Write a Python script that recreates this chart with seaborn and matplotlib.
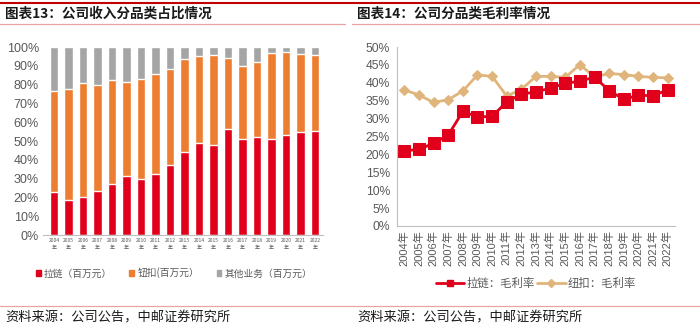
import numpy as np
import pandas as pd
import matplotlib
matplotlib.use("Agg")
import matplotlib.pyplot as plt
import seaborn as sns
from matplotlib.lines import Line2D
from matplotlib.patches import Patch

sns.set_style("white")
plt.rcParams['font.family'] = ['Liberation Sans', 'Noto Sans CJK SC', 'DejaVu Sans']

# ---- data ----
years = [str(y) for y in range(2004, 2023)]
zipper_share = [22.7, 18.8, 20.2, 23.5, 27.1, 31.3, 29.9, 32.4, 37.5, 44.4, 48.8, 48.1, 56.3, 51.3, 52.0, 51.3, 53.1, 54.7, 55.2]
button_share = [53.8, 58.7, 60.7, 56.3, 55.2, 50.3, 52.9, 53.3, 50.6, 49.4, 46.2, 47.5, 37.9, 38.4, 40.0, 45.5, 44.1, 41.4, 40.4]
other_share = [23.5, 22.5, 19.1, 20.2, 17.7, 18.4, 17.2, 14.3, 11.9, 6.2, 5.0, 4.4, 5.8, 10.3, 8.0, 3.2, 2.8, 3.9, 4.4]
share_labels = ['拉链（百万元）', '钮扣(百万元）', '其他业务（百万元）']

zipper_margin = [21.0, 21.4, 23.1, 25.4, 32.0, 30.5, 30.6, 34.7, 36.8, 37.5, 38.5, 39.9, 40.4, 41.6, 37.8, 35.4, 36.5, 36.4, 38.0]
button_margin = [38.0, 36.6, 34.5, 35.3, 37.7, 42.2, 41.8, 36.3, 38.2, 41.8, 41.8, 41.5, 45.1, 41.6, 42.6, 42.3, 41.8, 41.5, 41.4]
margin_labels = ['拉链：毛利率', '纽扣：毛利率']

RED = '#E0001B'
ORANGE = '#ED7D31'
GRAY = '#A5A5A5'
TAN = '#E0B57C'
TXT = '#595959'
AX = '#BFBFBF'

W, H = 700, 329
fig = plt.figure(figsize=(7, 3.29), dpi=100)

def fx(px):
    return px / W

def fy(py):
    return 1 - py / H

# decorative lines
fig.add_artist(Line2D([0, 1], [fy(3), fy(3)], color='#C00000', lw=1.5))
fig.add_artist(Line2D([0, fx(345)], [fy(23.5), fy(23.5)], color='#E9A3A3', lw=0.9))
fig.add_artist(Line2D([fx(352), 1], [fy(23.5), fy(23.5)], color='#E9A3A3', lw=0.9))
fig.add_artist(Line2D([0, 1], [fy(306), fy(306)], color='#E9A3A3', lw=0.9))

cjk = ['Noto Sans CJK SC', 'DejaVu Sans']
fig.text(fx(5), fy(13.5), '图表13：公司收入分品类占比情况', family=cjk, fontsize=9.8, fontweight='bold', va='center', ha='left', color='#1a1a1a')
fig.text(fx(357), fy(13.5), '图表14：公司分品类毛利率情况', family=cjk, fontsize=9.8, fontweight='bold', va='center', ha='left', color='#1a1a1a')
fig.text(fx(5), fy(318), '资料来源：公司公告，中邮证券研究所', family=cjk, fontsize=9.5, va='center', ha='left', color='#1a1a1a')
fig.text(fx(357), fy(318), '资料来源：公司公告，中邮证券研究所', family=cjk, fontsize=9.5, va='center', ha='left', color='#1a1a1a')

# ---- left: stacked bars ----
ax1 = fig.add_axes([fx(43), fy(235), fx(323 - 43), (235 - 47) / H])
z = np.array(zipper_share)
b = np.array(button_share)
o = np.array(other_share)
df = pd.DataFrame({'year': years, 'total': z + b + o, 'zb': z + b, 'z': z})
sns.barplot(data=df, x='year', y='total', color=GRAY, width=0.6, saturation=1, ax=ax1)
sns.barplot(data=df, x='year', y='zb', color=ORANGE, width=0.6, saturation=1, ax=ax1)
sns.barplot(data=df, x='year', y='z', color=RED, width=0.6, saturation=1, ax=ax1)
ax1.set_ylim(0, 100)
ax1.set_xlim(-0.76, 18.55)
ax1.set_yticks(range(0, 101, 10))
ax1.set_yticklabels([f'{v}%' for v in range(0, 101, 10)], fontsize=9, color=TXT)
ax1.set_xticks(range(len(years)))
ax1.set_xticklabels([f'{y}\n年' for y in years], fontsize=3.6, color=TXT, family=cjk, linespacing=1.6)
ax1.tick_params(axis='both', length=0, pad=2)
ax1.tick_params(axis='y', pad=3)
ax1.set_xlabel('')
ax1.set_ylabel('')
for s in ['top', 'right', 'left']:
    ax1.spines[s].set_visible(False)
ax1.spines['bottom'].set_color(AX)
ax1.spines['bottom'].set_linewidth(0.8)

handles1 = [Patch(color=RED), Patch(color=ORANGE), Patch(color=GRAY)]
leg1 = fig.legend(handles1, share_labels, loc='center', bbox_to_anchor=(fx(174), fy(273)),
                  ncol=3, frameon=False, prop={'family': cjk, 'size': 7},
                  handlelength=0.5, handleheight=0.5, handletextpad=0.3, columnspacing=1.8)
for t in leg1.get_texts():
    t.set_color(TXT)

# ---- right: line chart ----
ax2 = fig.add_axes([fx(397), fy(226), fx(675 - 397), (226 - 47) / H])
ldf = pd.DataFrame({'x': np.arange(len(years)), 'zip': zipper_margin, 'btn': button_margin})
sns.lineplot(data=ldf, x='x', y='btn', color=TAN, lw=2, marker='D', markersize=5,
             markeredgecolor=TAN, ax=ax2)
sns.lineplot(data=ldf, x='x', y='zip', color=RED, lw=2, marker='s', markersize=8,
             markeredgecolor=RED, ax=ax2)
ax2.set_xlim(-0.5, 18.5)
ax2.set_ylim(0, 50)
ax2.set_yticks(range(0, 51, 5))
ax2.set_yticklabels([f'{v}%' for v in range(0, 51, 5)], fontsize=8.7, color=TXT)
ax2.set_xticks(range(len(years)))
ax2.set_xticklabels([f'{y}年' for y in years], rotation=90, fontsize=8, color=TXT, family=['Liberation Sans', 'Noto Sans CJK SC'])
ax2.set_xticks(np.arange(-0.5, 18.6, 1), minor=True)
ax2.tick_params(axis='x', which='major', length=0, pad=3)
ax2.tick_params(axis='x', which='minor', length=3, color=AX, width=0.8)
ax2.tick_params(axis='y', length=3, color=AX, width=0.8, pad=2)
ax2.set_xlabel('')
ax2.set_ylabel('')
for s in ['top', 'right']:
    ax2.spines[s].set_visible(False)
for s in ['left', 'bottom']:
    ax2.spines[s].set_color(AX)
    ax2.spines[s].set_linewidth(0.8)

handles2 = [Line2D([], [], color=RED, lw=2, marker='s', markersize=5),
            Line2D([], [], color=TAN, lw=2, marker='D', markersize=4)]
leg2 = fig.legend(handles2, margin_labels, loc='center', bbox_to_anchor=(fx(536), fy(283)),
                  ncol=2, frameon=False, prop={'family': cjk, 'size': 8.2},
                  handlelength=2.5, handletextpad=0.2, columnspacing=0.2)
for t in leg2.get_texts():
    t.set_color(TXT)

fig.savefig('out.png', dpi=100)
